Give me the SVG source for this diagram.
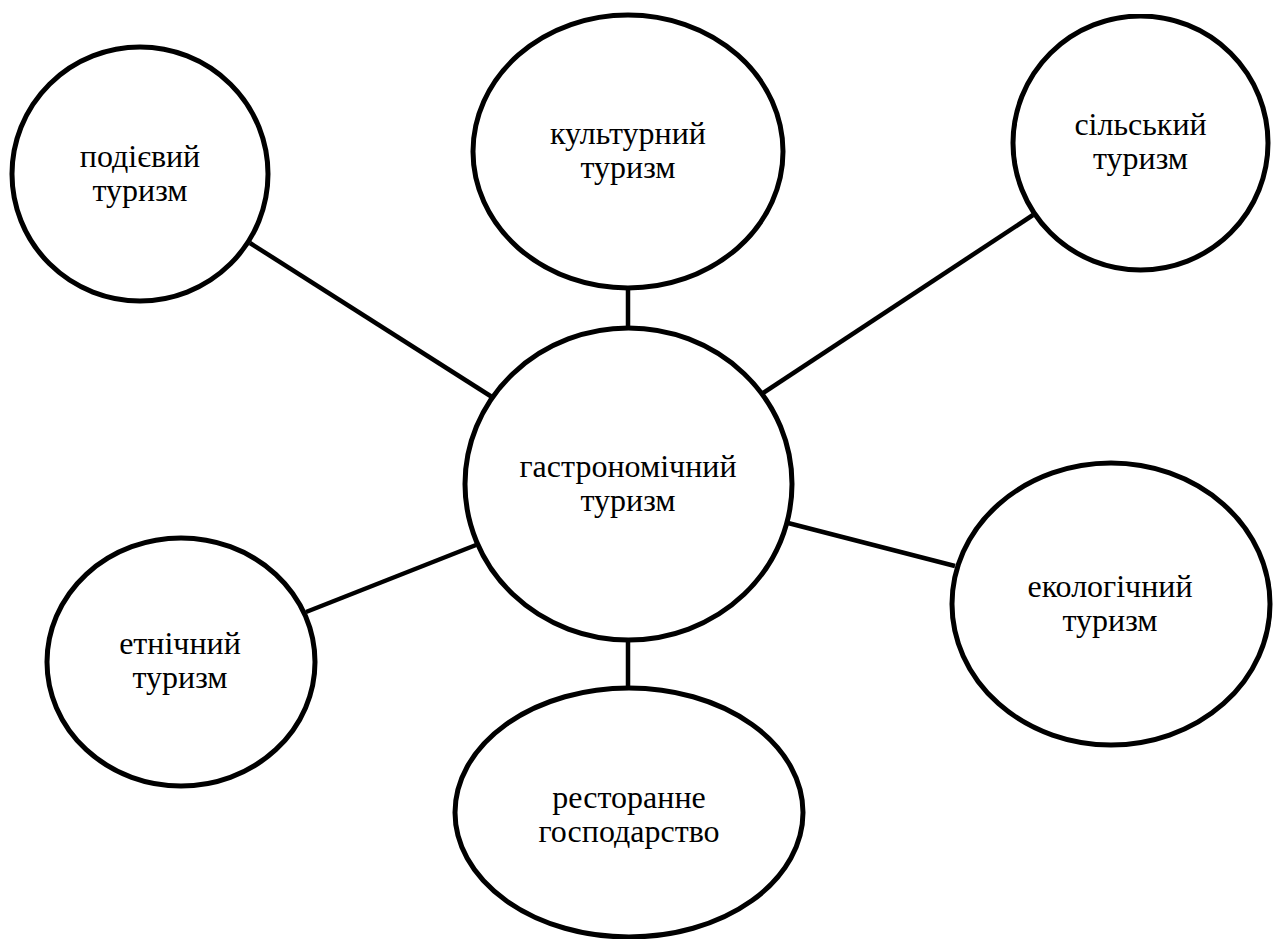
<svg xmlns="http://www.w3.org/2000/svg" width="1278" height="939" viewBox="0 0 1278 939">
<style>
.n{fill:#fff;stroke:#000;stroke-width:5}
.c{stroke:#000;stroke-width:4.5;fill:none}
.t{font-family:'Liberation Serif','Times New Roman',serif;font-size:32px;fill:#000;text-anchor:middle}
</style>
<defs><clipPath id="clipTop"><rect x="0" y="14" width="1278" height="925"/></clipPath></defs>
<rect width="1278" height="939" fill="#fff"/>
<g id="connectors">
<line class="c" x1="250" y1="243" x2="492" y2="397"/>
<line class="c" x1="628" y1="288" x2="628" y2="328"/>
<line class="c" x1="1033" y1="215" x2="763" y2="393"/>
<line class="c" x1="306" y1="612" x2="476" y2="545"/>
<line class="c" x1="788" y1="523" x2="955" y2="566"/>
<line class="c" x1="628" y1="640" x2="628" y2="688"/>
</g>
<g id="podiievyi">
<ellipse class="n" cx="140" cy="174" rx="128" ry="127"/>
<text class="t" x="140" y="167">подієвий</text>
<text class="t" x="140" y="201">туризм</text>
</g>
<g id="kulturnyi">
<ellipse class="n" cx="628" cy="151.5" rx="155" ry="136.5"/>
<text class="t" x="628" y="144">культурний</text>
<text class="t" x="628" y="178">туризм</text>
</g>
<g id="silskyi">
<ellipse class="n" cx="1140.5" cy="143" rx="127.5" ry="127" clip-path="url(#clipTop)"/>
<text class="t" x="1140.5" y="135">сільський</text>
<text class="t" x="1140.5" y="169">туризм</text>
</g>
<g id="gastronomichnyi">
<ellipse class="n" cx="628.5" cy="484" rx="163.5" ry="156"/>
<text class="t" x="628" y="477">гастрономічний</text>
<text class="t" x="628" y="511">туризм</text>
</g>
<g id="etnichnyi">
<ellipse class="n" cx="181" cy="662" rx="134" ry="124"/>
<text class="t" x="180" y="654">етнічний</text>
<text class="t" x="180" y="688">туризм</text>
</g>
<g id="ekolohichnyi">
<ellipse class="n" cx="1111" cy="604" rx="159" ry="141"/>
<text class="t" x="1110" y="597">екологічний</text>
<text class="t" x="1110" y="631">туризм</text>
</g>
<g id="restoranne">
<ellipse class="n" cx="629" cy="812.5" rx="174" ry="124.5"/>
<text class="t" x="629" y="808">ресторанне</text>
<text class="t" x="629" y="842">господарство</text>
</g>
</svg>
